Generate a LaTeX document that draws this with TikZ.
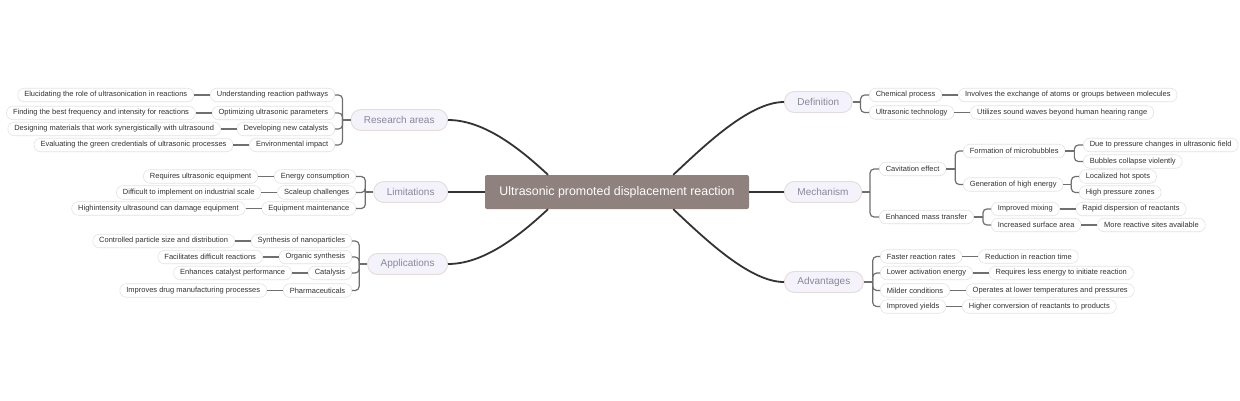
\documentclass[tikz,border=0pt]{standalone}
\usepackage{fontspec}
\setmainfont{Liberation Sans}
\usetikzlibrary{positioning}
\definecolor{rootfill}{HTML}{8E817E}
\definecolor{topicfill}{HTML}{F4F2FB}
\definecolor{topicline}{HTML}{E4DCDA}
\definecolor{topictext}{HTML}{8A8898}
\definecolor{leafline}{HTML}{E3E3E3}
\definecolor{leaftext}{HTML}{333333}
\definecolor{trunkcol}{HTML}{333333}
\definecolor{twigcol}{HTML}{6F6F6F}

\begin{document}
\begin{tikzpicture}[
    x=1pt, y=-1pt,
    node distance=16pt,
    root/.style={fill=rootfill, text=white, rounded corners=2pt, minimum height=34pt, minimum width=264pt, inner xsep=12pt, font=\fontsize{12.4}{14}\selectfont},
    topic/.style={fill=topicfill, draw=topicline, line width=0.9pt, rounded corners=10pt, minimum height=21pt, inner xsep=13pt, text=topictext, font=\fontsize{10}{12}\selectfont},
    leaf/.style={fill=white, draw=leafline, line width=0.6pt, rounded corners=6.5pt, minimum height=13.5pt, inner xsep=6.5pt, inner ysep=0pt, text=leaftext, font=\fontsize{7.5}{9}\selectfont},
    trunk/.style={draw=trunkcol, line width=1.8pt},
    twig/.style={draw=twigcol, line width=1.2pt, rounded corners=4pt}]
\useasboundingbox (0,0) rectangle (1240,400);

\node[root] (root) at (617,192) {Ultrasonic promoted displacement reaction};

% main topics
\node[topic, anchor=east] (res)  at (448,120) {Research areas};
\node[topic, anchor=east] (lim)  at (448,192) {Limitations};
\node[topic, anchor=east] (app)  at (448,264) {Applications};
\node[topic, anchor=west] (def)  at (784,102) {Definition};
\node[topic, anchor=west] (mech) at (784,192) {Mechanism};
\node[topic, anchor=west] (adv)  at (784,282) {Advantages};

\draw[trunk] (res.east) .. controls +(35,0) and +(-30,-28) .. (root.166);
\draw[trunk] (lim.east) -- (root.west);
\draw[trunk] (app.east) .. controls +(35,0) and +(-30,28) .. (root.194);
\draw[trunk] (def.west) .. controls +(-35,0) and +(30,-28) .. (root.17);
\draw[trunk] (mech.west) -- (root.east);
\draw[trunk] (adv.west) .. controls +(-35,0) and +(30,28) .. (root.343);

% research areas
\node[leaf, anchor=east] (r1) at (335,95)  {Understanding reaction pathways};
\node[leaf, anchor=east] (r2) at (335,113) {Optimizing ultrasonic parameters};
\node[leaf, anchor=east] (r3) at (335,129) {Developing new catalysts};
\node[leaf, anchor=east] (r4) at (335,145) {Environmental impact};
\node[leaf, left=of r1] (r1d) {Elucidating the role of ultrasonication in reactions};
\node[leaf, left=of r2] (r2d) {Finding the best frequency and intensity for reactions};
\node[leaf, left=of r3] (r3d) {Designing materials that work synergistically with ultrasound};
\node[leaf, left=of r4] (r4d) {Evaluating the green credentials of ultrasonic processes};
\draw[twig] (res.west) -- ++(-8,0) coordinate (resb);
\foreach \c in {r1,r2,r3,r4} {
  \draw[twig] (resb) |- (\c.east);
  \draw[twig] (\c.west) -- (\c d.east);
}

% limitations
\node[leaf, anchor=east] (l1) at (356,176.5) {Energy consumption};
\node[leaf, anchor=east] (l2) at (356,192.5) {Scaleup challenges};
\node[leaf, anchor=east] (l3) at (356,208.5) {Equipment maintenance};
\node[leaf, left=of l1] (l1d) {Requires ultrasonic equipment};
\node[leaf, left=of l2] (l2d) {Difficult to implement on industrial scale};
\node[leaf, left=of l3] (l3d) {Highintensity ultrasound can damage equipment};
\draw[twig] (lim.west) -- ++(-8,0) coordinate (limb);
\foreach \c in {l1,l2,l3} {
  \draw[twig] (limb) |- (\c.east);
  \draw[twig] (\c.west) -- (\c d.east);
}

% applications
\node[leaf, anchor=east] (a1) at (352,241) {Synthesis of nanoparticles};
\node[leaf, anchor=east] (a2) at (352,257) {Organic synthesis};
\node[leaf, anchor=east] (a3) at (352,273) {Catalysis};
\node[leaf, anchor=east] (a4) at (352,290.5) {Pharmaceuticals};
\node[leaf, left=of a1] (a1d) {Controlled particle size and distribution};
\node[leaf, left=of a2] (a2d) {Facilitates difficult reactions};
\node[leaf, left=of a3] (a3d) {Enhances catalyst performance};
\node[leaf, left=of a4] (a4d) {Improves drug manufacturing processes};
\draw[twig] (app.west) -- ++(-8,0) coordinate (appb);
\foreach \c in {a1,a2,a3,a4} {
  \draw[twig] (appb) |- (\c.east);
  \draw[twig] (\c.west) -- (\c d.east);
}

% definition
\node[leaf, anchor=west] (d1) at (869,95)    {Chemical process};
\node[leaf, anchor=west] (d2) at (869,112.5) {Ultrasonic technology};
\node[leaf, right=of d1] (d1d) {Involves the exchange of atoms or groups between molecules};
\node[leaf, right=of d2] (d2d) {Utilizes sound waves beyond human hearing range};
\draw[twig] (def.east) -- ++(8,0) coordinate (defb);
\foreach \c in {d1,d2} {
  \draw[twig] (defb) |- (\c.west);
  \draw[twig] (\c.east) -- (\c d.west);
}

% mechanism
\node[leaf, anchor=west] (cav)  at (879,169)   {Cavitation effect};
\node[leaf, anchor=west] (mass) at (879,217)   {Enhanced mass transfer};
\node[leaf, anchor=west] (form) at (963,151)   {Formation of microbubbles};
\node[leaf, anchor=west] (gen)  at (963,184.5) {Generation of high energy};
\node[leaf, anchor=west] (mix)  at (991,209)   {Improved mixing};
\node[leaf, anchor=west] (surf) at (991,225)   {Increased surface area};
\node[leaf, anchor=west] (form1) at (1083,145)   {Due to pressure changes in ultrasonic field};
\node[leaf, anchor=west] (form2) at (1083,161.5) {Bubbles collapse violently};
\node[leaf, anchor=west] (gen1)  at (1079,176.5) {Localized hot spots};
\node[leaf, anchor=west] (gen2)  at (1079,192.5) {High pressure zones};
\node[leaf, right=of mix]  (mixd)  {Rapid dispersion of reactants};
\node[leaf, right=of surf] (surfd) {More reactive sites available};
\draw[twig] (mech.east) -- ++(8,0) coordinate (mechb);
\draw[twig] (mechb) |- (cav.west);
\draw[twig] (mechb) |- (mass.west);
\draw[twig] (cav.east) -- ++(9,0) coordinate (cavb);
\draw[twig] (cavb) |- (form.west);
\draw[twig] (cavb) |- (gen.west);
\draw[twig] (form.east) -- ++(9,0) coordinate (formb);
\draw[twig] (formb) |- (form1.west);
\draw[twig] (formb) |- (form2.west);
\draw[twig] (gen.east) -- ++(8,0) coordinate (genb);
\draw[twig] (genb) |- (gen1.west);
\draw[twig] (genb) |- (gen2.west);
\draw[twig] (mass.east) -- ++(9,0) coordinate (massb);
\draw[twig] (massb) |- (mix.west);
\draw[twig] (massb) |- (surf.west);
\draw[twig] (mix.east) -- (mixd.west);
\draw[twig] (surf.east) -- (surfd.west);

% advantages
\node[leaf, anchor=west] (v1) at (880,256.5) {Faster reaction rates};
\node[leaf, anchor=west] (v2) at (880,273)   {Lower activation energy};
\node[leaf, anchor=west] (v3) at (880,290.5) {Milder conditions};
\node[leaf, anchor=west] (v4) at (880,306.5) {Improved yields};
\node[leaf, right=of v1] (v1d) {Reduction in reaction time};
\node[leaf, right=of v2] (v2d) {Requires less energy to initiate reaction};
\node[leaf, right=of v3] (v3d) {Operates at lower temperatures and pressures};
\node[leaf, right=of v4] (v4d) {Higher conversion of reactants to products};
\draw[twig] (adv.east) -- ++(9,0) coordinate (advb);
\foreach \c in {v1,v2,v3,v4} {
  \draw[twig] (advb) |- (\c.west);
  \draw[twig] (\c.east) -- (\c d.west);
}

\end{tikzpicture}
\end{document}
